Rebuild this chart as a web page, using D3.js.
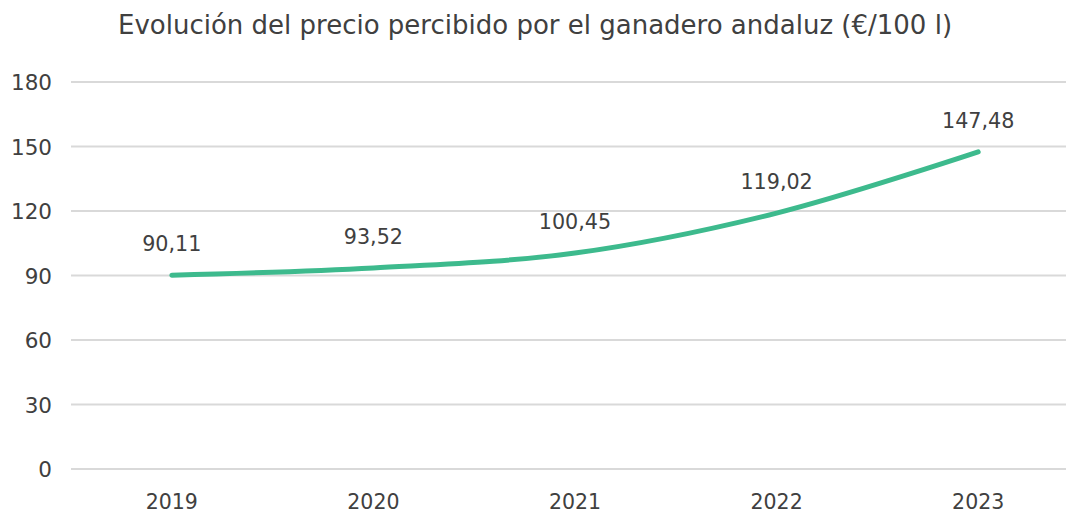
<!DOCTYPE html>
<html>
<head>
<meta charset="utf-8">
<script src="https://cdn.jsdelivr.net/npm/d3@7"></script>
<style>
  body { margin: 0; background: #fff; }
  svg { display: block; font-family: "DejaVu Sans", sans-serif; }
</style>
</head>
<body>
<div id="container"></div>
<script>
var width = 1066, height = 513;

// data
var years = ["2019", "2020", "2021", "2022", "2023"];
var prices = [90.11, 93.52, 100.45, 119.02, 147.48];
var labels = ["90,11", "93,52", "100,45", "119,02", "147,48"];
var yTicks = [0, 30, 60, 90, 120, 150, 180];

var margin = {top: 82, right: -13, bottom: 44, left: 71};

var svg = d3.select("#container").append("svg")
  .attr("width", width)
  .attr("height", height);

var x = d3.scalePoint()
  .domain(years)
  .range([margin.left, width - margin.right])
  .padding(0.5);

var y = d3.scaleLinear()
  .domain([0, 180])
  .range([height - margin.bottom, margin.top]);

// title
svg.append("text")
  .attr("x", 535)
  .attr("y", 34)
  .attr("text-anchor", "middle")
  .style("font-size", "26px")
  .style("fill", "#404040")
  .text("Evolución del precio percibido por el ganadero andaluz (€/100 l)");

// gridlines
svg.append("g")
  .selectAll("line")
  .data(yTicks)
  .enter()
  .append("line")
  .attr("x1", margin.left)
  .attr("x2", width)
  .attr("y1", function(d) { return y(d); })
  .attr("y2", function(d) { return y(d); })
  .style("stroke", "#d9d9d9")
  .style("stroke-width", 2);

// y axis labels
svg.append("g")
  .selectAll("text")
  .data(yTicks)
  .enter()
  .append("text")
  .attr("x", 52)
  .attr("y", function(d) { return y(d) + 8; })
  .attr("text-anchor", "end")
  .style("font-size", "21.5px")
  .style("fill", "#404040")
  .text(function(d) { return d; });

// x axis labels
svg.append("g")
  .selectAll("text")
  .data(years)
  .enter()
  .append("text")
  .attr("x", function(d) { return x(d); })
  .attr("y", 509)
  .attr("text-anchor", "middle")
  .style("font-size", "20.5px")
  .style("fill", "#404040")
  .text(function(d) { return d; });

var line = d3.line()
  .x(function(d, i) { return x(years[i]); })
  .y(function(d) { return y(d); })
  .curve(d3.curveCatmullRom.alpha(0.5));

svg.append("path")
  .datum(prices)
  .attr("d", line)
  .style("fill", "none")
  .style("stroke", "#3dba8d")
  .style("stroke-width", 5)
  .style("stroke-linecap", "round");

// data labels
svg.append("g")
  .selectAll("text")
  .data(prices)
  .enter()
  .append("text")
  .attr("x", function(d, i) { return x(years[i]); })
  .attr("y", function(d) { return y(d) - 24; })
  .attr("text-anchor", "middle")
  .style("font-size", "20.7px")
  .style("fill", "#404040")
  .text(function(d, i) { return labels[i]; });
</script>
</body>
</html>
